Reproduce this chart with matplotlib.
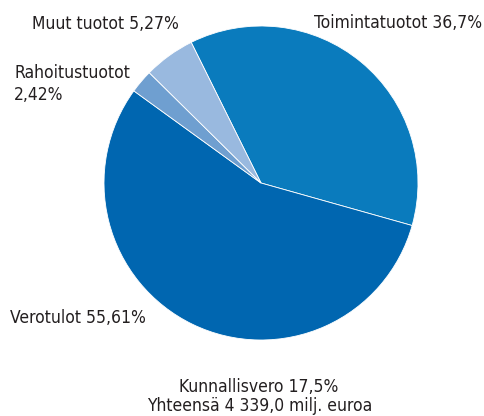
import matplotlib.pyplot as plt

# share of income, %
labels = ['Toimintatuotot', 'Verotulot', 'Rahoitustuotot', 'Muut tuotot']
shares = [36.7, 55.61, 2.42, 5.27]
colors = ['#0a7bbd', '#0066b0', '#6f9fd0', '#99b9df']

plt.rcParams['font.family'] = ['DejaVu Sans']
plt.rcParams['font.stretch'] = 'condensed'
txt_color = '#231f20'

W, H = 484, 416
fig = plt.figure(figsize=(W / 100, H / 100), dpi=100)

# pie axes placed in pixel coords
left, right, top, bottom = 104, 418, 26, 340
ax = fig.add_axes([left / W, (H - bottom) / H, (right - left) / W, (bottom - top) / H])
ax.pie(shares, colors=colors, startangle=116.4, counterclock=False,
       wedgeprops=dict(edgecolor='white', linewidth=0.6))
ax.set_xlim(-1, 1)
ax.set_ylim(-1, 1)
ax.set_aspect('equal')
ax.axis('off')


def put(x, y, s, ha='left'):
    fig.text(x / W, 1 - y / H, s, ha=ha, va='baseline', fontsize=12.5,
             fontstretch='condensed', color=txt_color)


put(32, 29, 'Muut tuotot 5,27%')
put(482, 28, 'Toimintatuotot 36,7%', ha='right')
put(14, 78, 'Rahoitustuotot')
put(14, 100, '2,42%')
put(10, 323, 'Verotulot 55,61%')
put(259, 392, 'Kunnallisvero 17,5%', ha='center')
put(260, 411, 'Yhteensä 4 339,0 milj. euroa', ha='center')

fig.savefig('out.png', dpi=100)
